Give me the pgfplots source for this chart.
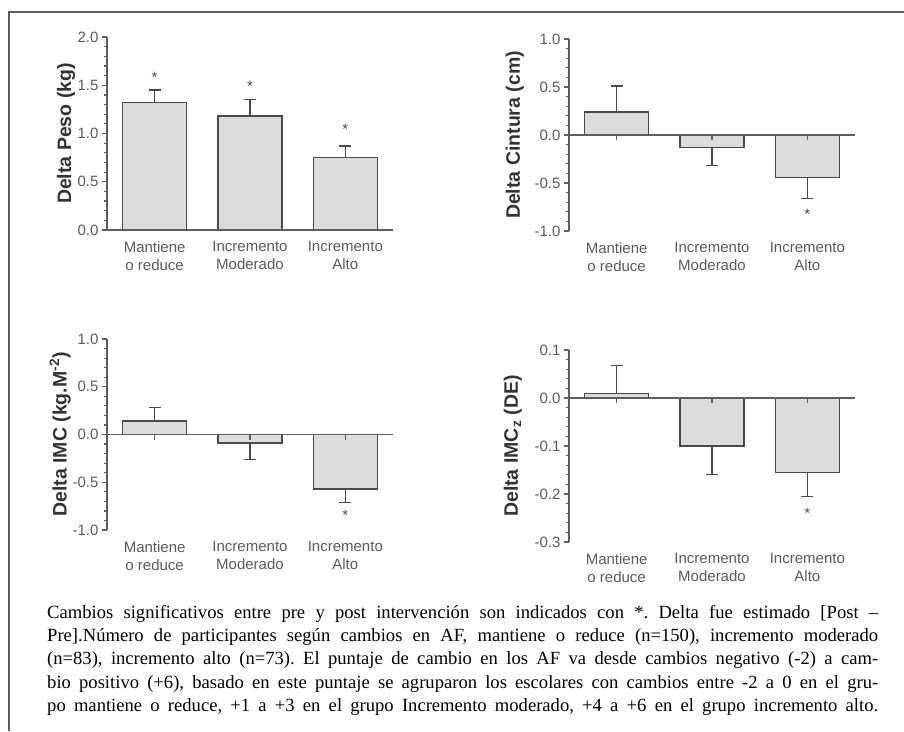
\documentclass[border=0pt]{standalone}
\usepackage{pgfplots}
\pgfplotsset{compat=1.18}
\usepackage{fontspec}
\setmainfont{Liberation Sans}
\newfontfamily\capfont{Liberation Serif}

\definecolor{barfill}{HTML}{DCDCDC}
\definecolor{baredge}{HTML}{4A4A4A}
\definecolor{axisgray}{HTML}{5E5E5E}
\definecolor{ticktext}{HTML}{5A5A5A}

\pgfplotsset{
  panel/.style={
    scale only axis, width=286pt, anchor=north west,
    xmin=-0.5, xmax=2.5,
    axis y line*=left, axis x line*=bottom,
    x axis line style={draw=none},
    y axis line style={axisgray, line width=1.2pt},
    xtick={0,1,2},
    xticklabels={Mantiene\\o reduce, Incremento\\Moderado, Incremento\\Alto},
    x tick label style={align=center, font=\fontsize{15}{18}\selectfont, text=ticktext, yshift=-3pt},
    x tick style={draw=none},
    y tick label style={font=\fontsize{15}{18}\selectfont, text=ticktext},
    y tick style={axisgray, line width=1.2pt},
    major tick length=5pt, minor tick length=3pt,
    tick align=outside,
    minor y tick num=4,
    every axis y label/.style={rotate=90, anchor=center,
      font=\fontsize{19.5}{22}\selectfont\bfseries, text=black!80},
  },
  bars/.style={ybar, bar width=64pt, fill=barfill, draw=baredge, line width=1.3pt,
    error bars/y explicit,
    error bars/error bar style={baredge, line width=1.3pt},
    error bars/error mark options={rotate=90, mark size=6pt, baredge, line width=1.3pt}},
  up/.style={bars, error bars/y dir=plus},
  down/.style={bars, error bars/y dir=minus},
  stars/.style={draw=none, mark=none, nodes near coords={*},
    every node near coord/.append style={anchor=center, font=\fontsize{15}{18}\selectfont, text=baredge}},
}
\newcommand{\zeroline}{%
  \draw[axisgray, line width=1.2pt] (axis cs:-0.5,0) -- (axis cs:2.5,0);
  \draw[axisgray, line width=1.2pt] (axis cs:0,0) -- ([yshift=-5pt]axis cs:0,0);
  \draw[axisgray, line width=1.2pt] (axis cs:1,0) -- ([yshift=-5pt]axis cs:1,0);
  \draw[axisgray, line width=1.2pt] (axis cs:2,0) -- ([yshift=-5pt]axis cs:2,0);}

\begin{document}
\begin{tikzpicture}
\useasboundingbox (0,0) rectangle (904pt,-731pt);
\draw[axisgray, line width=1.5pt] (9pt,-731pt) -- (9pt,-12pt) -- (904pt,-12pt);

% Delta Peso
\begin{axis}[panel, at={(107pt,-37pt)}, height=193pt,
  ymin=0, ymax=2, ytick={0,0.5,1,1.5,2}, yticklabels={0.0,0.5,1.0,1.5,2.0},
  ylabel style={at={(axis description cs:-0.143,0.5)}},
  ylabel={Delta Peso (kg)}]
  \addplot[up] coordinates {(0,1.32) +- (0,0.13) (1,1.18) +- (0,0.17) (2,0.75) +- (0,0.12)};
  \addplot[stars] coordinates {(0,1.58) (1,1.49) (2,1.04)};
  \zeroline
\end{axis}

% Delta Cintura
\begin{axis}[panel, at={(569pt,-39pt)}, height=192pt,
  ymin=-1, ymax=1, ytick={-1,-0.5,0,0.5,1}, yticklabels={-1.0,-0.5,0.0,0.5,1.0},
  ylabel style={at={(axis description cs:-0.189,0.5)}},
  ylabel={Delta Cintura (cm)}]
  \addplot[up] coordinates {(0,0.24) +- (0,0.27)};
  \addplot[down] coordinates {(1,-0.13) +- (0,0.19) (2,-0.44) +- (0,0.22)};
  \addplot[stars] coordinates {(2,-0.83)};
  \zeroline
\end{axis}

% Delta IMC
\begin{axis}[panel, at={(107pt,-339pt)}, height=191pt,
  ymin=-1, ymax=1, ytick={-1,-0.5,0,0.5,1}, yticklabels={-1.0,-0.5,0.0,0.5,1.0},
  ylabel style={at={(axis description cs:-0.164,0.5)}},
  ylabel={Delta IMC (kg.M\textsuperscript{-2})}]
  \addplot[up] coordinates {(0,0.14) +- (0,0.14)};
  \addplot[down] coordinates {(1,-0.09) +- (0,0.17) (2,-0.57) +- (0,0.14)};
  \addplot[stars] coordinates {(2,-0.85)};
  \zeroline
\end{axis}

% Delta IMCz
\begin{axis}[panel, at={(569pt,-350pt)}, height=192pt,
  ymin=-0.3, ymax=0.1, ytick={-0.3,-0.2,-0.1,0,0.1}, yticklabels={-0.3,-0.2,-0.1,0.0,0.1},
  ylabel style={at={(axis description cs:-0.196,0.5)}},
  ylabel={Delta IMC\textsubscript{z} (DE)}]
  \addplot[up] coordinates {(0,0.01) +- (0,0.058)};
  \addplot[down] coordinates {(1,-0.10) +- (0,0.06) (2,-0.155) +- (0,0.05)};
  \addplot[stars] coordinates {(2,-0.24)};
  \zeroline
\end{axis}

\node[anchor=north west, inner sep=0pt] at (47pt,-605pt) {\parbox{831pt}{%
  \capfont\fontsize{18.6}{23.3}\selectfont\frenchspacing\parfillskip=0pt\tolerance=10000\hyphenpenalty=10000\noindent
  Cambios significativos entre pre y post intervención son indicados con *. Delta fue estimado [Post –\linebreak
  Pre].Número de participantes según cambios en AF, mantiene o reduce (n=150), incremento moderado\linebreak
  (n=83), incremento alto (n=73). El puntaje de cambio en los AF va desde cambios negativo (-2) a cam-\linebreak
  bio positivo (+6), basado en este puntaje se agruparon los escolares con cambios entre -2 a 0 en el gru-\linebreak
  po mantiene o reduce, +1 a +3 en el grupo Incremento moderado, +4 a +6 en el grupo incremento alto.}};
\end{tikzpicture}
\end{document}
